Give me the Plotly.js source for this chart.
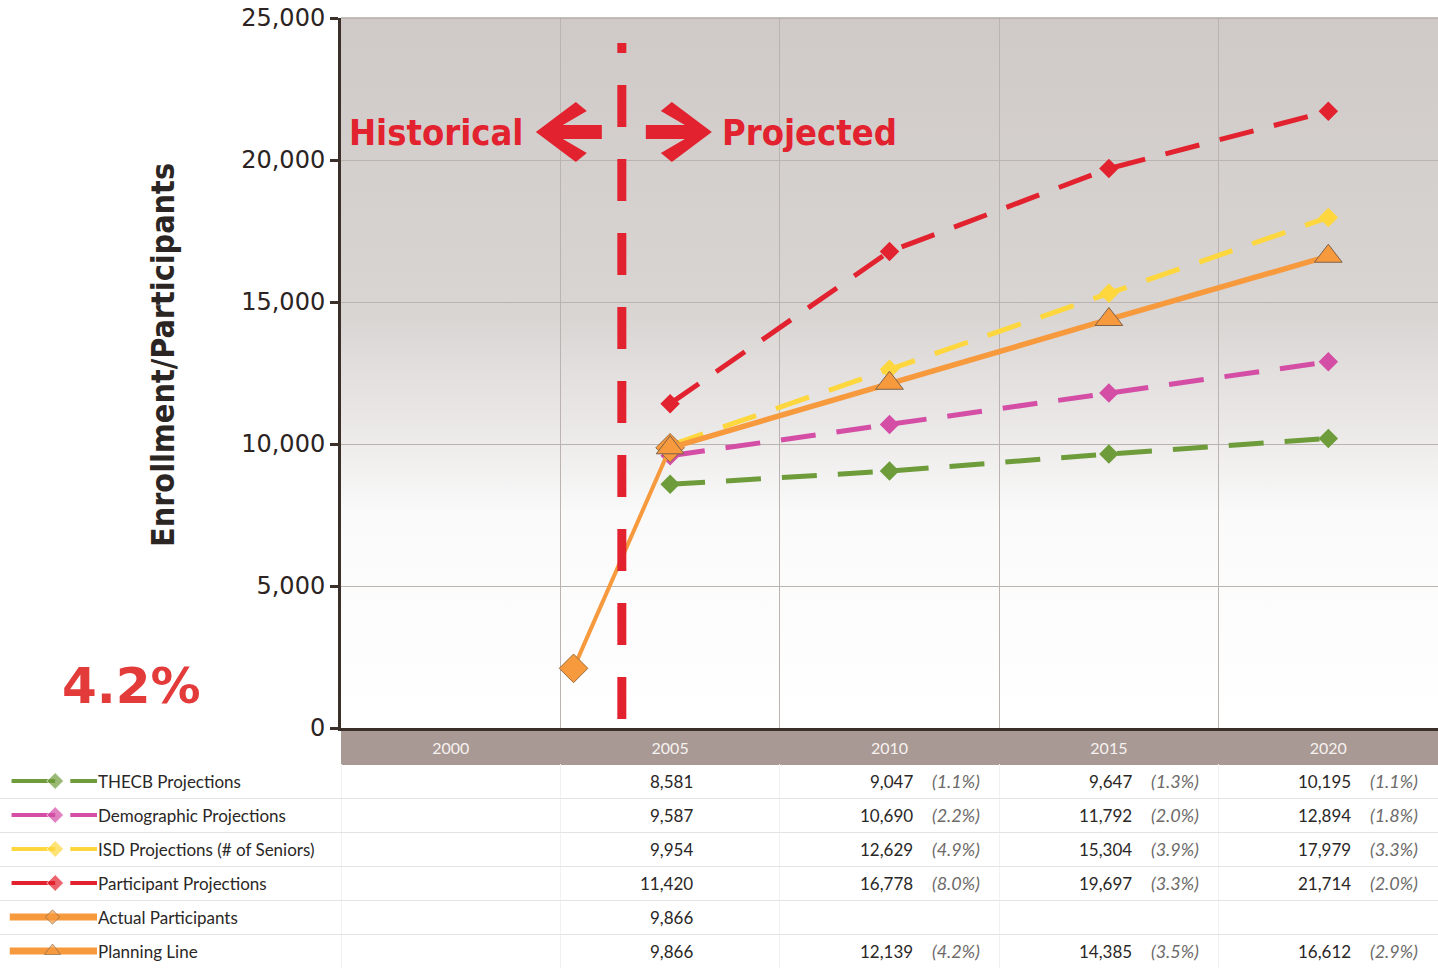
<!DOCTYPE html>
<html>
<head>
<meta charset="utf-8">
<script src="https://cdn.plot.ly/plotly-3.0.1.min.js"></script>
<style>
  html, body { margin: 0; padding: 0; background: #ffffff; }
  #chart { width: 1438px; height: 968px; }
</style>
</head>
<body>
<div id="chart"></div>
<script>
// ---- data ----
const axisYears = [2000, 2005, 2010, 2015, 2020];
const projYears = [2005, 2010, 2015, 2020];

const thecb = [8581, 9047, 9647, 10195];
const thecbGrowth = [null, 1.1, 1.3, 1.1];

const demographic = [9587, 10690, 11792, 12894];
const demographicGrowth = [null, 2.2, 2.0, 1.8];

const isdSeniors = [9954, 12629, 15304, 17979];
const isdGrowth = [null, 4.9, 3.9, 3.3];

const participantProj = [11420, 16778, 19697, 21714];
const participantGrowth = [null, 8.0, 3.3, 2.0];

const actualYears = [2002.8, 2005];
const actualParticipants = [2100, 9866];

const planningLine = [9866, 12139, 14385, 16612];
const planningGrowth = [null, 4.2, 3.5, 2.9];

const seriesNames = [
  'THECB Projections',
  'Demographic Projections',
  'ISD Projections (# of Seniors)',
  'Participant Projections',
  'Actual Participants',
  'Planning Line'
];
const seriesColors = ['#6e9c3b', '#d44ea6', '#fdd73d', '#e3222f', '#f79a3e', '#f79a3e'];

const dividerYear = 2003.9;
const planningRateLabel = '4.2%';
const yTicks = [0, 5000, 10000, 15000, 20000, 25000];

// ---- geometry helpers (pixel -> paper) ----
const W = 1438, H = 968;
const px = v => v / W;
const py = v => 1 - v / H;
const plotLeft = 341, plotTop = 18, plotBottom = 728;
const xRange = [1997.5, 2022.5];
const pxPerYear = (W - plotLeft) / (xRange[1] - xRange[0]);
const tableRange = [xRange[0] - plotLeft / pxPerYear, xRange[1]];
const boundaries = axisYears.map(y => y - 2.5);

const fmt = v => v.toLocaleString('en-US');
const tableFont = 'Lato, Roboto, sans-serif';
const narrowBold = '"Liberation Sans Narrow", "DejaVu Sans Condensed", "Liberation Sans", sans-serif';

// ---- plotted series ----
const dashPattern = '35px,21px';
const traces = [];
const projections = [
  [thecb, 0], [demographic, 1], [isdSeniors, 2], [participantProj, 3]
];
projections.forEach(([vals, i]) => {
  traces.push({
    x: projYears, y: vals, type: 'scatter', mode: 'lines+markers',
    line: { color: seriesColors[i], width: 5, dash: dashPattern },
    marker: { symbol: 'diamond', size: 15, color: seriesColors[i] },
    hoverinfo: 'skip', showlegend: false
  });
});
traces.push({
  x: actualYears, y: actualParticipants, type: 'scatter', mode: 'lines+markers',
  line: { color: seriesColors[4], width: 4 },
  marker: { symbol: 'diamond', size: 22, color: seriesColors[4], line: { color: '#9a6b3c', width: 1 } },
  hoverinfo: 'skip', showlegend: false
});
traces.push({
  x: projYears, y: planningLine, type: 'scatter', mode: 'lines+markers',
  line: { color: seriesColors[5], width: 5.5 },
  marker: { symbol: 'triangle-up', size: 24, color: seriesColors[5], line: { color: '#7d6048', width: 1 } },
  hoverinfo: 'skip', showlegend: false
});

// ---- legend glyphs in the table ----
seriesNames.forEach((name, i) => {
  const y = [i, i, i, i, i];
  if (i < 4) {
    traces.push({
      x: [0.04, 0.53, null, 0.7, 1], y, xaxis: 'x3', yaxis: 'y2',
      type: 'scatter', mode: 'lines+markers', hoverinfo: 'skip', showlegend: false,
      line: { color: seriesColors[i], width: 4 },
      marker: { symbol: 'diamond', size: [0, 13, 0, 0, 0], color: seriesColors[i] }
    });
  } else {
    traces.push({
      x: [0.02, 0.5, 1], y: [i, i, i], xaxis: 'x3', yaxis: 'y2',
      type: 'scatter', mode: 'lines+markers', hoverinfo: 'skip', showlegend: false,
      line: { color: seriesColors[i], width: 7 },
      marker: {
        symbol: i === 4 ? 'diamond' : 'triangle-up',
        size: [0, i === 4 ? 11 : 14, 0],
        color: seriesColors[i], line: { color: '#8b6a4a', width: 1 }
      }
    });
  }
});

// ---- table text ----
const tableRows = [
  [thecb, thecbGrowth],
  [demographic, demographicGrowth],
  [isdSeniors, isdGrowth],
  [participantProj, participantGrowth],
  [projYears.map(y => { const k = actualYears.indexOf(y); return k >= 0 ? actualParticipants[k] : null; }),
   [null, null, null, null]],
  [planningLine, planningGrowth]
];

const annotations = [];
seriesNames.forEach((name, i) => {
  annotations.push({
    xref: 'paper', yref: 'y2', x: px(96), y: i, xanchor: 'left', yanchor: 'middle',
    text: name, showarrow: false, font: { family: tableFont, size: 17, color: '#2a2726' }
  });
  const [vals, growth] = tableRows[i];
  projYears.forEach((yr, j) => {
    if (vals[j] != null) {
      annotations.push({
        xref: 'x2', yref: 'y2', x: yr, y: i, xanchor: 'right', yanchor: 'middle', xshift: 25,
        text: fmt(vals[j]), showarrow: false, font: { family: tableFont, size: 17, color: '#2a2726' }
      });
    }
    if (growth[j] != null) {
      annotations.push({
        xref: 'x2', yref: 'y2', x: yr, y: i, xanchor: 'left', yanchor: 'middle', xshift: 40,
        text: '(' + growth[j].toFixed(1) + '%)', showarrow: false,
        font: { family: tableFont, size: 18, color: '#6d6a69', style: 'italic' }
      });
    }
  });
});

// headline labels
annotations.push({
  xref: 'x', yref: 'paper', x: dividerYear, y: py(133), xshift: -97, xanchor: 'right', yanchor: 'middle',
  text: '<b>Historical</b>', showarrow: false, font: { family: narrowBold, size: 36, color: '#e2222e' }
});
annotations.push({
  xref: 'x', yref: 'paper', x: dividerYear, y: py(133), xshift: 98, xanchor: 'left', yanchor: 'middle',
  text: '<b>Projected</b>', showarrow: false, font: { family: narrowBold, size: 36, color: '#e2222e' }
});
annotations.push({
  xref: 'paper', yref: 'paper', x: px(163), y: py(355), textangle: -90, xanchor: 'center', yanchor: 'middle',
  text: '<b>Enrollment/Participants</b>', showarrow: false, font: { family: narrowBold, size: 32, color: '#2b2523' }
});
annotations.push({
  xref: 'paper', yref: 'paper', x: px(131), y: py(686), xanchor: 'center', yanchor: 'middle',
  text: '<b>' + planningRateLabel + '</b>', showarrow: false, font: { family: 'DejaVu Sans', size: 50, color: '#e33a3a' }
});

// ---- shapes ----
const arrowLeft = 'M-86,0 L-46,30 L-35,21 L-59,7 L-20,7 L-20,-7 L-59,-7 L-35,-21 L-46,-30 Z';
const arrowRight = 'M90,0 L50,30 L39,21 L63,7 L24,7 L24,-7 L63,-7 L39,-21 L50,-30 Z';
const shapes = [
  // axis band under the plot
  { type: 'rect', xref: 'paper', yref: 'paper', x0: px(plotLeft), x1: 1, y0: py(765), y1: py(729),
    fillcolor: '#a99994', line: { width: 0 }, layer: 'below' },
  // top border
  { type: 'line', xref: 'paper', yref: 'paper', x0: px(plotLeft), x1: 1, y0: py(plotTop), y1: py(plotTop),
    line: { color: '#b3aba8', width: 1.5 } },
  // historical / projected divider
  { type: 'line', xref: 'x', yref: 'y', x0: dividerYear, x1: dividerYear, y0: 320, y1: 24120,
    line: { color: '#e2222e', width: 9, dash: '42px,32px' } },
  { type: 'path', xref: 'x', yref: 'paper', xsizemode: 'pixel', ysizemode: 'pixel',
    xanchor: dividerYear, yanchor: py(132), path: arrowLeft, fillcolor: '#e2222e', line: { width: 0 } },
  { type: 'path', xref: 'x', yref: 'paper', xsizemode: 'pixel', ysizemode: 'pixel',
    xanchor: dividerYear, yanchor: py(132), path: arrowRight, fillcolor: '#e2222e', line: { width: 0 } }
];

// plot background gradient
const gradSvg = '<svg xmlns="http://www.w3.org/2000/svg" width="10" height="100" viewBox="0 0 10 100" preserveAspectRatio="none">' +
  '<defs><linearGradient id="g" x1="0" y1="0" x2="0" y2="1">' +
  '<stop offset="0" stop-color="#cfcac8"/><stop offset="0.42" stop-color="#d9d5d3"/>' +
  '<stop offset="0.58" stop-color="#ebe9e8"/><stop offset="0.7" stop-color="#fafafa"/>' +
  '<stop offset="1" stop-color="#ffffff"/></linearGradient></defs>' +
  '<rect width="10" height="100" fill="url(#g)"/></svg>';

const layout = {
  width: W, height: H,
  margin: { l: 0, r: 0, t: 0, b: 0, pad: 0 },
  paper_bgcolor: '#ffffff',
  plot_bgcolor: 'rgba(0,0,0,0)',
  showlegend: false,
  images: [{
    source: 'data:image/svg+xml;charset=utf-8,' + encodeURIComponent(gradSvg),
    xref: 'paper', yref: 'paper', x: px(plotLeft), y: py(plotTop),
    sizex: 1 - px(plotLeft), sizey: (plotBottom - plotTop) / H,
    xanchor: 'left', yanchor: 'top', sizing: 'stretch', layer: 'below'
  }],
  xaxis: {
    domain: [px(plotLeft), 1], range: xRange, anchor: 'y',
    tickmode: 'array', tickvals: axisYears, ticktext: axisYears.map(String),
    ticks: '', showgrid: false, zeroline: false,
    showline: true, linecolor: '#3b2f2a', linewidth: 3,
    tickfont: { family: tableFont, size: 16, color: '#f6f2f0' },
    ticklabelstandoff: 4,
    minor: { tickmode: 'array', tickvals: boundaries.slice(1), showgrid: true, gridcolor: '#bbb3b0', gridwidth: 1, ticks: '' }
  },
  yaxis: {
    domain: [py(plotBottom), py(plotTop)], range: [0, 25000], anchor: 'x',
    tickmode: 'array', tickvals: yTicks, ticktext: yTicks.map(fmt),
    ticks: 'outside', ticklen: 8, tickwidth: 3, tickcolor: '#3b2f2a',
    showline: true, linecolor: '#3b2f2a', linewidth: 3,
    showgrid: true, gridcolor: '#bbb3b0', gridwidth: 1, zeroline: false,
    tickfont: { family: 'DejaVu Sans', size: 24, color: '#2b2422' },
    ticklabelstandoff: 0
  },
  xaxis2: {
    domain: [0, 1], range: tableRange, anchor: 'y2',
    tickmode: 'array', tickvals: boundaries, showticklabels: false, ticks: '',
    showgrid: true, gridcolor: '#f3f1f0', zeroline: false, showline: false
  },
  yaxis2: {
    domain: [0, py(764)], range: [5.5, -0.5], anchor: 'x2',
    tickmode: 'array', tickvals: [0.5, 1.5, 2.5, 3.5, 4.5, 5.5], showticklabels: false, ticks: '',
    showgrid: true, gridcolor: '#e6e2e0', zeroline: false, showline: false
  },
  xaxis3: {
    domain: [px(8), px(97)], range: [0, 1], anchor: 'y2', visible: false
  },
  shapes, annotations
};

Plotly.newPlot('chart', traces, layout, { staticPlot: true, displayModeBar: false });
</script>
</body>
</html>
